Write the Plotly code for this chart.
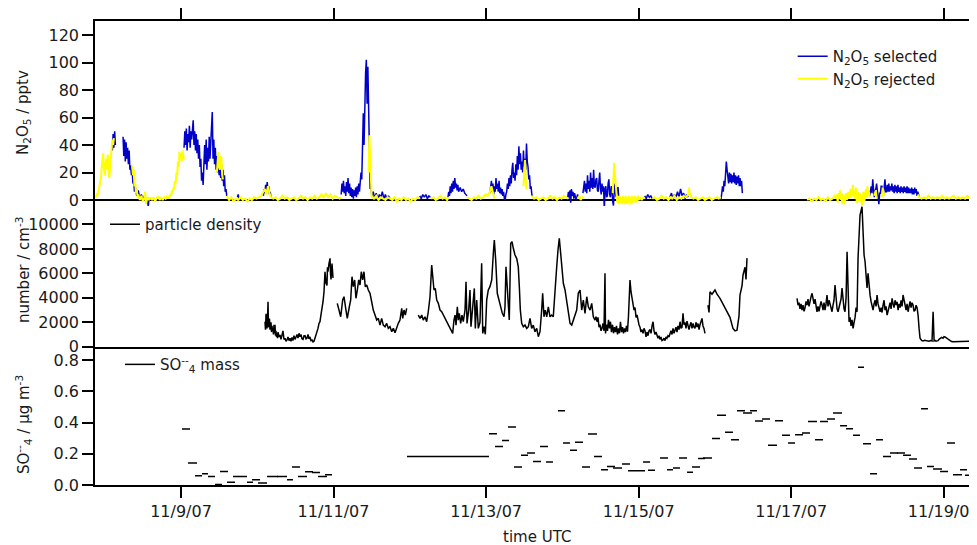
import pandas as pd
import plotly.graph_objects as go

# ---------------- data (day of November 2007, UTC) ----------------
sel_day = [
    8.10, 8.11, 8.12, 8.13, 8.14, 8.19,
    8.24, 8.25, 8.26, 8.27, 8.28, 8.29, 8.30, 8.31, 8.32, 8.33, 8.34, 8.35, 8.36, 8.37, 8.38, 8.39, 8.40,
    8.42, 8.44, 8.46, 8.48, 8.50, 8.52, 8.54, 8.56, 8.57, 8.58, 8.60, 8.80,
    9.04, 9.05, 9.06, 9.07, 9.08, 9.09, 9.10, 9.11, 9.12, 9.13, 9.14, 9.15, 9.16, 9.17, 9.18,
    9.19, 9.20, 9.21, 9.22, 9.23, 9.24, 9.25, 9.26, 9.27, 9.28, 9.29, 9.30, 9.31, 9.32, 9.33,
    9.34, 9.35, 9.36, 9.37, 9.38, 9.39, 9.40, 9.41, 9.42, 9.43, 9.44, 9.45, 9.46, 9.47, 9.48,
    9.49, 9.50, 9.51, 9.52, 9.53, 9.54, 9.55, 9.56, 9.57, 9.58, 9.59, 9.60, 9.70,
    9.74, 9.75, 9.76, 9.90,
    10.08, 10.09, 10.10, 10.11, 10.12, 10.13, 10.14, 10.15, 10.16, 10.17, 10.18, 10.50,
    11.10, 11.11, 11.12, 11.13, 11.14, 11.15, 11.16, 11.17, 11.18, 11.19, 11.20, 11.21, 11.22, 11.23, 11.24,
    11.25, 11.26, 11.27, 11.28, 11.29, 11.30, 11.31, 11.32, 11.33, 11.34, 11.35, 11.36, 11.37, 11.38, 11.39,
    11.40, 11.41, 11.42, 11.43, 11.44, 11.45, 11.46, 11.47, 11.48, 11.49, 11.50,
    11.52, 11.54, 11.56, 11.58, 11.60, 11.62, 11.64, 11.66, 11.68, 11.70, 11.72, 11.74, 11.90,
    12.13, 12.15, 12.17, 12.19, 12.21, 12.23, 12.25, 12.27, 12.40,
    12.50, 12.51, 12.52, 12.53, 12.54, 12.55, 12.56, 12.57, 12.58, 12.59, 12.60, 12.61, 12.62, 12.63, 12.64,
    12.66, 12.68, 12.70, 12.72, 12.74, 12.75, 12.90,
    13.05, 13.06, 13.07, 13.08, 13.09, 13.10, 13.11, 13.12, 13.13, 13.14, 13.15, 13.16, 13.17, 13.18, 13.19,
    13.20, 13.21, 13.22, 13.23, 13.24, 13.25, 13.26, 13.27, 13.28, 13.29, 13.30, 13.31, 13.32, 13.33, 13.34,
    13.35, 13.36, 13.37, 13.38, 13.39, 13.40, 13.41, 13.42, 13.43, 13.44, 13.45, 13.46, 13.47, 13.48, 13.49,
    13.50, 13.51, 13.52, 13.53, 13.54, 13.55, 13.56, 13.57, 13.58, 13.59, 13.60, 13.61, 13.80,
    14.07, 14.08, 14.09, 14.10, 14.11, 14.12, 14.13, 14.14, 14.15, 14.16, 14.18, 14.20, 14.21, 14.24,
    14.27, 14.28, 14.29, 14.30, 14.31, 14.32, 14.33, 14.34, 14.35, 14.36, 14.37, 14.38, 14.39, 14.40, 14.41,
    14.42, 14.43, 14.44, 14.45, 14.46, 14.47, 14.48, 14.49, 14.50, 14.51, 14.52, 14.53, 14.54, 14.55, 14.56,
    14.57, 14.58, 14.59, 14.60, 14.61, 14.62, 14.63, 14.64, 14.65, 14.66, 14.67, 14.68, 14.69, 14.70, 14.71,
    14.72, 14.73, 14.74, 14.75, 14.90,
    15.08, 15.10, 15.12, 15.14, 15.16, 15.18, 15.30,
    15.41, 15.43, 15.45, 15.47, 15.49, 15.51, 15.53, 15.55, 15.57, 15.59, 15.61, 15.63, 15.65, 15.90,
    16.08, 16.09, 16.10, 16.11, 16.12, 16.13, 16.14, 16.15, 16.16, 16.17, 16.18, 16.19, 16.20, 16.21, 16.22,
    16.23, 16.24, 16.25, 16.26, 16.27, 16.28, 16.29, 16.30, 16.31, 16.32, 16.33, 16.34, 16.35, 16.36, 17.50,
    18.03, 18.04, 18.05, 18.06, 18.07, 18.08, 18.09, 18.10, 18.11, 18.12, 18.13, 18.14, 18.15, 18.16, 18.17,
    18.18, 18.19, 18.20, 18.21, 18.22, 18.23, 18.24, 18.25, 18.26, 18.27, 18.28, 18.29, 18.30, 18.31, 18.32,
    18.33, 18.34, 18.35, 18.36, 18.37, 18.38, 18.39, 18.40, 18.41, 18.42, 18.43, 18.44, 18.45, 18.46, 18.47,
    18.48, 18.49, 18.50, 18.51, 18.52, 18.53, 18.54, 18.55, 18.56, 18.57, 18.58, 18.59, 18.60, 18.61, 18.62,
    18.63, 18.64, 18.65, 18.66, 18.67, 18.68, 18.69,
]
sel_val = [
    36, 48, 38, 50, 40, None,
    46, 32, 44, 28, 42, 30, 38, 26, 36, 22, 25, 18, 22, 12, 15, 6, 10,
    3, 7, 1, 4, 0, 3, -1, 2, -5, 1, 0, None,
    38, 50, 40, 52, 36, 48, 42, 54, 38, 50, 44, 56, 58, 40, 50,
    36, 48, 34, 44, 30, 40, 24, 30, 14, 20, 11, 28, 40, 26, 44,
    22, 38, 28, 46, 30, 42, 50, 64, 30, 44, 26, 38, 22, 32, 20,
    30, 18, 28, 16, 26, 14, 22, 10, 18, 6, 8, 3, None,
    2, 4, 1, None,
    3, 8, 5, 11, 6, 13, 7, 10, 4, 6, 2, None,
    4, 12, 6, 14, 5, 10, 3, 13, 6, 16, 5, 12, 3, 9, 2,
    8, 1, 7, 3, 9, 2, 10, 4, 12, 6, 16, 20, 15, 38, 63,
    40, 75, 92, 102, 70, 97, 55, 20, 8, 12, 3,
    6, 1, 5, 0, 4, 2, 6, 1, 4, 0, 3, 1, None,
    3, 1, 4, 2, 4, 1, 3, 2, None,
    2, 6, 3, 10, 5, 12, 6, 14, 8, 16, 9, 12, 7, 11, 6,
    9, 6, 8, 5, 4, 3, None,
    5, 10, 14, 6, 12, 4, 10, 6, 16, 8, 12, 6, 14, 5, 9,
    4, 8, 3, 6, 1, 0, 4, 6, 12, 8, 16, 10, 18, 12, 22,
    27, 16, 20, 14, 26, 18, 32, 22, 39, 26, 34, 22, 28, 20, 36,
    24, 30, 22, 41, 28, 24, 15, 18, 8, 10, 4, 3, None,
    2, 6, 1, 7, -2, 8, 3, 6, 1, 5, 0, 4, 2, None,
    5, 10, 14, 6, 12, 5, 18, 8, 14, 6, 20, 9, 16, 8, 22,
    10, 9, 15, 16, 7, 6, 14, 20, 8, 4, 12, 6, 10, -7, 8,
    10, 2, 3, 12, 15, 4, 2, 10, 8, -1, -4, 6, 12, 3, 2,
    9, 9, 1, 0, None,
    3, 1, 4, 2, 3, 1, None,
    2, 5, 1, 4, 2, 6, 2, 8, 3, 5, 1, 4, 2, None,
    0, 4, 10, 6, 14, 10, 18, 28, 22, 14, 12, 20, 13, 19, 12,
    18, 13, 20, 12, 18, 11, 17, 12, 18, 10, 16, 10, 14, 5, None,
    3, 8, 10, 5, 15, 8, 2, 7, 8, 12, 4, 2, -3, 5, 5,
    10, 10, 4, 4, 12, 15, 6, 6, 11, 6, 12, 6, 10, 7, 12,
    6, 10, 5, 11, 6, 10, 5, 11, 6, 9, 5, 10, 6, 9, 5,
    10, 6, 9, 5, 10, 5, 9, 5, 8, 5, 9, 4, 8, 4, 9,
    5, 8, 3, 6, 3, 2, 2,
]

rej_day = [
    7.87, 7.88, 7.89, 7.90, 7.91, 7.92, 7.93, 7.94, 7.95, 7.96, 7.97, 7.98, 7.99,
    8.00, 8.01, 8.02, 8.03, 8.04, 8.05, 8.06, 8.07, 8.08, 8.09, 8.10, 8.11, 8.12, 8.20,
    8.36, 8.37, 8.38, 8.39, 8.40, 8.41, 8.42, 8.43, 8.44,
    8.46, 8.48, 8.50, 8.52, 8.53, 8.54, 8.56, 8.58, 8.60, 8.62, 8.64, 8.66, 8.68, 8.70, 8.72,
    8.74, 8.76, 8.78, 8.80, 8.82, 8.84, 8.86,
    8.87, 8.88, 8.89, 8.90, 8.91, 8.92, 8.93, 8.94, 8.95, 8.96, 8.97, 8.98, 8.99, 9.00, 9.01, 9.02, 9.03, 9.04, 9.20,
    9.47, 9.48, 9.49, 9.50, 9.51, 9.52, 9.53, 9.54, 9.55, 9.58,
    9.60, 9.63, 9.66, 9.69, 9.72, 9.75, 9.78, 9.81, 9.84, 9.87, 9.90, 9.93, 9.96, 9.99, 10.02, 10.05,
    10.08, 10.10, 10.12, 10.14, 10.16, 10.18,
    10.21, 10.24, 10.27, 10.30, 10.33, 10.36, 10.39, 10.42, 10.45, 10.48, 10.51, 10.54, 10.57, 10.60, 10.63,
    10.66, 10.69, 10.72, 10.75, 10.78, 10.81, 10.84, 10.87, 10.90, 10.93, 10.96, 10.99, 11.02, 11.05, 11.08,
    11.10, 11.30,
    11.46, 11.47, 11.48, 11.49, 11.50,
    11.53, 11.56, 11.59, 11.62, 11.65, 11.68, 11.71, 11.74, 11.77, 11.80, 11.83, 11.86, 11.89, 11.92, 11.95,
    11.98, 12.01, 12.04, 12.07, 12.10, 12.13, 12.20,
    12.28, 12.31, 12.34, 12.37, 12.40, 12.43, 12.46, 12.49, 12.51, 12.60,
    12.75, 12.78, 12.81, 12.84, 12.87, 12.90, 12.93, 12.96, 12.99, 13.02, 13.05, 13.07, 13.09, 13.11, 13.30,
    13.49, 13.50, 13.51, 13.52, 13.53, 13.56,
    13.60, 13.63, 13.66, 13.69, 13.72, 13.75, 13.78, 13.81, 13.84, 13.87, 13.90, 13.93, 13.96, 13.99, 14.02,
    14.05, 14.08, 14.14,
    14.20, 14.22, 14.24, 14.26, 14.28, 14.50,
    14.66, 14.67, 14.68, 14.69, 14.70, 14.71, 14.72, 14.73, 14.74, 14.75, 14.76, 14.77, 14.78, 14.79, 14.80,
    14.81, 14.82, 14.83, 14.84, 14.85, 14.86, 14.87, 14.88, 14.89, 14.90, 14.91, 14.92, 14.93, 14.94, 14.95,
    14.96, 14.97, 14.98, 14.99,
    15.00, 15.02, 15.04, 15.06, 15.08, 15.13,
    15.18, 15.21, 15.24, 15.27, 15.30, 15.33, 15.36, 15.39, 15.42,
    15.44, 15.47, 15.50, 15.53, 15.56, 15.59, 15.62, 15.65, 15.66, 15.67, 15.69,
    15.72, 15.75, 15.78, 15.81, 15.84, 15.87, 15.90, 15.93, 15.96, 15.99, 16.02, 16.05, 16.08, 16.50,
    17.21, 17.24, 17.27, 17.30, 17.33, 17.36, 17.39, 17.42, 17.45, 17.48, 17.51, 17.54, 17.57, 17.59,
    17.60, 17.61, 17.62, 17.63, 17.64, 17.65, 17.66, 17.67, 17.68, 17.69, 17.70, 17.71, 17.72, 17.73, 17.74,
    17.75, 17.76, 17.77, 17.78, 17.79, 17.80, 17.81, 17.82, 17.83, 17.84, 17.85, 17.86, 17.87, 17.88, 17.89,
    17.90, 17.91, 17.92, 17.93, 17.94, 17.95, 17.96, 17.97, 17.98, 17.99, 18.00, 18.01, 18.02, 18.03, 18.08,
    18.09, 18.10, 18.11, 18.12, 18.15,
    18.19, 18.20, 18.21, 18.22, 18.40,
    18.66, 18.68, 18.71, 18.74, 18.77, 18.80, 18.83, 18.86, 18.89, 18.92, 18.95, 18.98, 19.01, 19.04,
    19.07, 19.10, 19.13, 19.16, 19.19, 19.22, 19.25, 19.28, 19.31, 19.34, 19.37, 19.40, 19.44,
]
rej_val = [
    2, 3, 2, 5, 4, 7, 9, 12, 16, 24, 30, 34, 22,
    18, 26, 30, 22, 33, 20, 16, 24, 32, 38, 44, 40, 45, None,
    25, 18, 22, 10, 12, 5, 8, 2, 4,
    0, 3, -1, 2, 6, -3, 2, 0, 2, 0, 2, -1, 1, 3, 0,
    2, 0, 2, 1, 3, 1, 4,
    3, 7, 5, 9, 8, 14, 12, 20, 18, 28, 24, 35, 30, 34, 28, 36, 32, 30, None,
    20, 30, 35, 24, 22, 32, 30, 18, 15, None,
    3, 0, 2, -1, 1, 0, 2, 0, 1, -1, 1, 0, 2, 1, 2, 3,
    6, 8, 4, 10, 5, 2,
    1, 2, 0, 1, 3, 1, 2, 0, 1, 2, 0, 1, 3, 1, 2,
    0, 2, 1, 3, 1, 2, 4, 2, 5, 2, 4, 1, 3, 2, 1,
    2, None,
    20, 47, 30, 8, 2,
    1, 3, 0, 2, 1, 0, 2, 1, 0, 2, -1, 1, 0, 2, 0,
    1, -1, 1, 0, 2, 1, None,
    1, 2, 0, 1, 3, 1, 2, 0, 2, None,
    2, 1, 0, 2, 1, 3, 1, 2, 4, 3, 6, 10, 5, 1, None,
    10, 20, 29, 14, 8, None,
    3, 1, 2, 0, 1, 2, 0, 1, 3, 1, 2, 0, 2, 1, 3,
    2, 1, None,
    1, 3, 0, 2, 1, None,
    5, 16, 27, 18, 12, 4, -2, 3, -3, 3, -2, 2, -3, 3, -2,
    2, -3, 3, -2, 2, -3, 3, -1, 2, -3, 3, -2, 2, -1, 3,
    -2, 2, -1, 3,
    0, 2, 0, 2, 1, None,
    1, 2, 0, 1, 3, 1, 2, 0, 2,
    1, 3, 0, 2, 1, 3, 2, 4, 9, 5, 2,
    1, 2, 0, 1, 2, 0, 1, 2, 0, 1, 2, 1, 2, None,
    0, 1, -1, 1, 0, 2, 0, 1, -1, 2, 0, 1, 3, 1,
    4, -2, 5, 1, 7, 0, 5, -3, 4, 0, -3, 3, 5, 0, 2,
    6, 1, 4, 8, 2, 9, 11, 3, 7, 1, 9, -2, 4, 6, -1,
    5, 2, -3, -4, 4, 6, -1, 3, 8, 2, 10, 4, 6, 2, None,
    3, 6, 7, 1, None,
    2, 9, 5, 3, None,
    4, 2, 1, 2, 1, 3, 1, 2, 1, 2, 1, 3, 1, 2,
    1, 2, 3, 1, 2, 1, 2, 1, 3, 1, 2, 1, 2,
]

part_day = [
    10.101, 10.108, 10.115, 10.121, 10.128, 10.134, 10.141, 10.147, 10.154, 10.160, 10.167, 10.173, 10.180, 10.186, 10.193,
    10.199, 10.206, 10.212, 10.219, 10.225, 10.232, 10.239, 10.245, 10.252, 10.259, 10.265, 10.272, 10.285, 10.298, 10.311,
    10.324, 10.337, 10.350, 10.364, 10.377, 10.390, 10.403, 10.416, 10.429, 10.442, 10.455, 10.468, 10.481, 10.495, 10.508,
    10.521, 10.534, 10.547, 10.560, 10.573, 10.586, 10.600, 10.613, 10.626, 10.639, 10.652, 10.665, 10.678, 10.691, 10.704,
    10.718, 10.731, 10.744, 10.757, 10.770, 10.783, 10.796, 10.809, 10.822, 10.835, 10.848, 10.862, 10.875, 10.888, 10.901,
    10.914, 10.920, 10.927, 10.940, 10.954, 10.960, 10.967, 10.980, 10.993, 11.020,
    11.049, 11.076, 11.094, 11.120, 11.137, 11.163, 11.180, 11.207, 11.225, 11.242,
    11.259, 11.277, 11.294, 11.312, 11.330, 11.347, 11.364, 11.382, 11.399, 11.416,
    11.435, 11.456, 11.478, 11.500, 11.521, 11.544, 11.566, 11.587, 11.609, 11.631,
    11.652, 11.675, 11.697, 11.718, 11.740, 11.763, 11.784, 11.806, 11.828, 11.849,
    11.871, 11.894, 11.907, 11.924, 11.941, 11.959, 12.030,
    12.111, 12.134, 12.156, 12.177, 12.199, 12.221, 12.242, 12.265, 12.287, 12.300,
    12.317, 12.334, 12.353, 12.374, 12.396, 12.418, 12.439, 12.461, 12.484, 12.505,
    12.527, 12.549, 12.562, 12.579, 12.593, 12.606, 12.623, 12.636, 12.649, 12.667,
    12.684, 12.701, 12.724, 12.737, 12.750, 12.772, 12.789, 12.802, 12.825, 12.846,
    12.859, 12.877, 12.898, 12.920, 12.942, 12.956, 12.973, 12.990, 13.008, 13.029,
    13.051, 13.074, 13.095, 13.108, 13.126, 13.147, 13.169, 13.192, 13.213, 13.235,
    13.248, 13.261, 13.278, 13.291, 13.304, 13.323, 13.340, 13.357, 13.379, 13.401,
    13.422, 13.436, 13.449, 13.467, 13.488, 13.510, 13.533, 13.554, 13.576, 13.598,
    13.619, 13.641, 13.664, 13.685, 13.707, 13.729, 13.742, 13.759, 13.776, 13.795,
    13.816, 13.838, 13.860, 13.881, 13.904, 13.926, 13.943, 13.960, 13.978, 13.995,
    14.013, 14.035, 14.057, 14.078, 14.101, 14.123, 14.144, 14.166, 14.188, 14.209,
    14.232, 14.254, 14.275, 14.297, 14.320, 14.341, 14.363, 14.385, 14.406, 14.428, 14.441,
    14.454, 14.467, 14.481, 14.494, 14.507, 14.520, 14.533, 14.546, 14.559, 14.566,
    14.579, 14.592, 14.605, 14.618, 14.631, 14.644, 14.658, 14.671, 14.684, 14.697,
    14.710, 14.723, 14.736, 14.749, 14.762, 14.776, 14.789, 14.802, 14.815, 14.828,
    14.841, 14.854, 14.867, 14.880, 14.887, 14.900, 14.913, 14.927, 14.940, 14.953,
    14.966, 14.979, 14.992, 15.005, 15.018, 15.031, 15.044, 15.058, 15.071, 15.084,
    15.097, 15.110, 15.123, 15.136, 15.150, 15.163, 15.176, 15.189, 15.202, 15.215,
    15.228, 15.241, 15.254, 15.267, 15.280, 15.293, 15.306, 15.320, 15.333, 15.346,
    15.359, 15.372, 15.385, 15.398, 15.411, 15.424, 15.438, 15.451, 15.464, 15.477,
    15.490, 15.503, 15.516, 15.530, 15.543, 15.556, 15.569, 15.582, 15.595, 15.608,
    15.621, 15.634, 15.648, 15.661, 15.674, 15.687, 15.700, 15.713, 15.726, 15.739,
    15.752, 15.766, 15.779, 15.792, 15.805, 15.818, 15.831, 15.844, 15.857, 15.870, 15.890,
    15.909, 15.923, 15.936, 15.962, 16.001, 16.028, 16.067, 16.106, 16.159, 16.198, 16.237, 16.264, 16.290, 16.316, 16.329,
    16.356, 16.369, 16.395, 16.408, 16.421, 16.700,
    17.077, 17.090, 17.103, 17.116, 17.129, 17.142, 17.155, 17.169, 17.182, 17.195,
    17.208, 17.221, 17.234, 17.247, 17.261, 17.274, 17.287, 17.300, 17.313, 17.326,
    17.339, 17.352, 17.365, 17.378, 17.392, 17.405, 17.418, 17.431, 17.444, 17.457,
    17.470, 17.483, 17.497, 17.510, 17.523, 17.536, 17.549, 17.562, 17.575, 17.589,
    17.602, 17.615, 17.628, 17.641, 17.654, 17.667, 17.680, 17.693, 17.706, 17.720,
    17.733, 17.746, 17.759, 17.772, 17.785, 17.798, 17.812, 17.825, 17.838, 17.851,
    17.864, 17.877, 17.890, 17.903, 17.929, 17.943, 17.956, 17.969, 17.982, 17.995,
    18.008, 18.021, 18.035, 18.048, 18.061, 18.074, 18.087, 18.100, 18.113, 18.126,
    18.139, 18.153, 18.166, 18.179, 18.192, 18.205, 18.218, 18.231, 18.244, 18.258,
    18.271, 18.284, 18.297, 18.310, 18.323, 18.336, 18.349, 18.362, 18.376, 18.389,
    18.402, 18.415, 18.428, 18.441, 18.454, 18.467, 18.480, 18.494, 18.507, 18.520,
    18.533, 18.546, 18.559, 18.572, 18.585, 18.598, 18.611, 18.625, 18.638, 18.651,
    18.664, 18.677, 18.690, 18.710, 18.729, 18.749, 18.769, 18.788, 18.808, 18.828,
    18.847, 18.861, 18.874, 18.887, 18.900, 18.913, 18.926, 18.939, 18.952, 18.972,
    18.991, 19.004, 19.017, 19.037, 19.057, 19.070, 19.083, 19.103, 19.122, 19.155,
    19.187, 19.220, 19.253, 19.285, 19.318, 19.351, 19.384, 19.410, 19.437,
]
part_val = [
    2045, 1400, 2700, 1600, 1500, 2200, 3680, 1700, 1600, 2300, 1400, 1900, 2000, 1200, 1700,
    1300, 1530, 1000, 1800, 1100, 1800, 900, 1300, 800, 1100, 700, 1200, 800, 960, 600,
    900, 1300, 600, 700, 450, 550, 800, 500, 700, 450, 750, 500, 900, 600, 800,
    1000, 700, 1100, 820, 1000, 650, 600, 900, 900, 650, 700, 1000, 650, 800, 500,
    550, 400, 450, 700, 900, 1230, 1500, 1900, 2045, 2600, 3000, 3680, 4500, 6135, 5200,
    5000, 6500, 6135, 6800, 7230, 6000, 5500, 6800, 5620, None,
    3550, 3000, 2450, 3820, 4090, 3000, 2320, 3270, 3820, 5730,
    4910, 5460, 3960, 4640, 5460, 5050, 6135, 5460, 6135, 4910,
    5050, 4640, 4370, 3680, 3000, 2590, 2180, 2320, 1770, 2320,
    1770, 1640, 1910, 1500, 1640, 1230, 1500, 1150, 1640, 1910,
    2180, 3140, 2320, 3000, 2590, 3140, None,
    2590, 2320, 2590, 2180, 2450, 2050, 2860, 4090, 6680, 5460,
    4640, 4770, 3820, 3550, 3000, 2860, 2590, 2320, 2050, 1770,
    1500, 1230, 1090, 2180, 2590, 1770, 3270, 2180, 2730, 1910,
    2590, 2050, 3000, 5320, 1910, 3000, 4640, 1640, 3000, 4770,
    1500, 3820, 1500, 2000, 6820, 1090, 1640, 1020, 3820, 4640,
    4910, 5460, 7640, 8730, 7090, 4370, 3820, 3270, 2730, 2450,
    3270, 6545, 4910, 3820, 2180, 8460, 8600, 8050, 7500, 7230,
    6545, 4910, 3000, 1910, 1640, 1770, 1500, 1640, 2320, 1500,
    1770, 1230, 1500, 820, 1230, 3000, 4370, 2450, 3000, 2450,
    3270, 2450, 2590, 2450, 4910, 6545, 7910, 8870, 7640, 6545,
    5190, 4640, 3820, 2730, 1910, 1770, 2180, 2730, 3000, 4370,
    4640, 3000, 3820, 2730, 4090, 3270, 3000, 3550, 2450, 2180, 2450,
    2045, 2400, 1600, 1800, 1300, 1500, 1900, 1300, 6000, 1090,
    1800, 1300, 2200, 1500, 2045, 1200, 1800, 1100, 1600, 1200,
    1700, 1000, 1500, 1100, 2045, 1200, 1600, 1100, 1500, 1200,
    1700, 1230, 2500, 4200, 5460, 4500, 4000, 3680, 3000, 3200,
    2400, 2600, 2045, 1800, 1600, 1200, 1400, 1090, 1500, 1300,
    800, 1200, 900, 1300, 1400, 1100, 1700, 2045, 1300, 1000,
    1200, 800, 690, 900, 600, 800, 500, 550, 700, 500,
    800, 700, 900, 800, 1090, 1300, 1000, 1500, 1100, 1300,
    1600, 1200, 1700, 1400, 2045, 1500, 1600, 2730, 1800, 2000,
    1500, 2100, 1800, 1400, 1770, 2000, 1500, 1900, 1600, 1500,
    2000, 1600, 1900, 1400, 1800, 2000, 2320, 1700, 1500, 1090, None,
    3410, 2800, 4500, 4300, 4640, 4300, 3950, 3500, 2860, 2400, 1500, 1300, 1360, 2500, 4230,
    5000, 5870, 6500, 5500, 7250, None,
    3960, 3400, 3600, 3100, 3500, 3000, 3400, 2900, 3200, 3700,
    3410, 3900, 3300, 3800, 4100, 4370, 3700, 3500, 3900, 3200,
    2860, 3300, 2900, 3300, 3700, 3410, 3000, 3600, 3000, 3500,
    4230, 3300, 3800, 3500, 3000, 2860, 3400, 3800, 5050, 3500,
    3100, 2860, 3300, 3500, 3900, 4800, 3500, 3100, 2860, 4000,
    7770, 3500, 2045, 2400, 1700, 2200, 1500, 2000, 2400, 3200,
    2860, 7250, 9000, 10770, 11450, 8590, 7500, 6950, 5500, 4800,
    6000, 4800, 4200, 3700, 3410, 3000, 3500, 3800, 3300, 4230,
    3500, 3100, 2860, 3200, 2800, 3400, 3800, 3000, 3300, 2590,
    2900, 3200, 3600, 3100, 3950, 3500, 3200, 3800, 3400, 3680,
    3000, 3500, 3200, 3800, 3300, 4230, 3700, 3400, 3000, 3500,
    2860, 3300, 3700, 3200, 3600, 3410, 2900, 3000, 3400, 3200,
    2590, 1500, 690, 520, 470, 520, 480, 430, 450, 500,
    470, 2860, 470, 520, 450, 480, 500, 600, 690, 760,
    700, 820, 800, 700, 600, 520, 450, 420, 400, 410,
    380, 400, 400, 430, 420, 460, 550, 520, 520,
]

so4_start = [9.013, 9.092, 9.184, 9.275, 9.354, 9.446, 9.511, 9.603, 9.682, 9.865, 9.931, 10.010, 10.128,
             10.259, 10.390, 10.455, 10.534, 10.626, 10.718, 10.796, 10.888, 11.963, 13.038, 13.117, 13.209,
             13.287, 13.366, 13.458, 13.537, 13.615, 13.707, 13.786, 13.943, 14.009, 14.100, 14.166, 14.258,
             14.336, 14.415, 14.507, 14.585, 14.664, 14.782, 14.861, 14.992, 15.058, 15.123, 15.280, 15.372,
             15.451, 15.530, 15.635, 15.700, 15.779, 15.844, 15.962, 16.028, 16.133, 16.211, 16.290, 16.369,
             16.460, 16.526, 16.618, 16.696, 16.788, 16.880, 16.959, 17.051, 17.142, 17.221, 17.313, 17.378,
             17.470, 17.549, 17.641, 17.720, 17.811, 17.877, 17.942, 18.034, 18.113, 18.204, 18.296, 18.388,
             18.467, 18.545, 18.611, 18.703, 18.781, 18.860, 18.952, 19.043, 19.122, 19.214, 19.279, 19.371]
so4_end = [9.118, 9.210, 9.275, 9.354, 9.446, 9.538, 9.616, 9.708, 9.865, 9.944, 10.036, 10.128, 10.272,
           10.390, 10.468, 10.560, 10.652, 10.731, 10.822, 10.914, 10.980, 13.038, 13.143, 13.222, 13.301,
           13.392, 13.471, 13.550, 13.641, 13.720, 13.812, 13.877, 14.035, 14.101, 14.192, 14.271, 14.363,
           14.454, 14.520, 14.599, 14.690, 14.782, 14.887, 14.992, 15.084, 15.150, 15.215, 15.385, 15.451,
           15.543, 15.635, 15.713, 15.805, 15.870, 15.962, 16.067, 16.146, 16.237, 16.316, 16.395, 16.487,
           16.552, 16.631, 16.723, 16.814, 16.893, 16.985, 17.051, 17.156, 17.247, 17.339, 17.418, 17.483,
           17.575, 17.667, 17.733, 17.811, 17.903, 17.955, 18.047, 18.126, 18.204, 18.309, 18.401, 18.493,
           18.571, 18.650, 18.716, 18.794, 18.873, 18.978, 19.057, 19.148, 19.240, 19.306, 19.384, 19.476]
so4_val = [0.358, 0.141, 0.060, 0.072, 0.055, 0.003, 0.087, 0.017, 0.055, 0.017, 0.034, 0.013, 0.055,
           0.055, 0.034, 0.115, 0.055, 0.085, 0.080, 0.055, 0.066, 0.183, 0.328, 0.247, 0.285,
           0.371, 0.115, 0.190, 0.205, 0.151, 0.247, 0.147, 0.475, 0.269, 0.222, 0.273, 0.115,
           0.326, 0.183, 0.098, 0.119, 0.109, 0.134, 0.092, 0.092, 0.147, 0.094, 0.173, 0.098,
           0.109, 0.173, 0.081, 0.115, 0.169, 0.173, 0.298, 0.446, 0.337, 0.290, 0.476, 0.461,
           0.476, 0.410, 0.422, 0.254, 0.411, 0.318, 0.269, 0.322, 0.333, 0.407, 0.290, 0.407,
           0.422, 0.461, 0.380, 0.360, 0.318, 0.753, 0.264, 0.072, 0.290, 0.183, 0.205, 0.205,
           0.190, 0.166, 0.109, 0.488, 0.119, 0.102, 0.087, 0.269, 0.066, 0.098, 0.062, 0.104]

tick_days = [9, 11, 13, 15, 17, 19]
tick_labels = ["11/9/07", "11/11/07", "11/13/07", "11/15/07", "11/17/07", "11/19/07"]
n2o5_ticks = [0, 20, 40, 60, 80, 100, 120]
part_ticks = [0, 2000, 4000, 6000, 8000, 10000]
part_ticklabels = ["0", "2000", "4000", "6000", "8000", "10000"]
so4_ticks = [0.0, 0.2, 0.4, 0.6, 0.8]
so4_ticklabels = ["0.0", "0.2", "0.4", "0.6", "0.8"]

assert len(sel_day) == len(sel_val), (len(sel_day), len(sel_val))
assert len(rej_day) == len(rej_val), (len(rej_day), len(rej_val))
assert len(part_day) == len(part_val), (len(part_day), len(part_val))
assert len(so4_start) == len(so4_end) == len(so4_val)

# ---------------- helpers ----------------
BASE = pd.Timestamp("2007-11-01")


def to_time(days):
    return [None if d is None else BASE + pd.Timedelta(days=d - 1) for d in days]


so4_x, so4_y = [], []
for s, e, v in zip(so4_start, so4_end, so4_val):
    so4_x += [s, e, None]
    so4_y += [v, v, None]

FONT = "DejaVu Sans"
TXT = "#1a1a1a"
x_range = to_time([7.8724, 19.4366])
tick_times = to_time(tick_days)

fig = go.Figure()
fig.add_trace(go.Scatter(x=to_time(sel_day), y=sel_val, mode="lines", xaxis="x", yaxis="y",
                         line=dict(color="#0000C8", width=1.5),
                         name="N<sub>2</sub>O<sub>5</sub> selected", legend="legend"))
fig.add_trace(go.Scatter(x=to_time(rej_day), y=rej_val, mode="lines", xaxis="x", yaxis="y",
                         line=dict(color="#FFFF00", width=2),
                         name="N<sub>2</sub>O<sub>5</sub> rejected", legend="legend"))
fig.add_trace(go.Scatter(x=to_time(part_day), y=part_val, mode="lines", xaxis="x2", yaxis="y2",
                         line=dict(color="black", width=1.5),
                         name="particle density", legend="legend2"))
fig.add_trace(go.Scatter(x=to_time(so4_x), y=so4_y, mode="lines", xaxis="x3", yaxis="y3",
                         line=dict(color="black", width=1.5),
                         name="SO<sup>--</sup><sub>4</sub> mass", legend="legend3"))

axis_common = dict(showline=True, linecolor="black", linewidth=1.5, showgrid=False,
                   tickcolor="black", tickwidth=1.5, ticklen=11,
                   tickfont=dict(family=FONT, size=16, color=TXT))

# the page body adds an 8 px offset, so margins are shifted to keep the plot where it belongs
fig.update_layout(
    width=977, height=545,
    margin=dict(l=87, r=8, t=13, b=68, autoexpand=False),
    paper_bgcolor="white", plot_bgcolor="rgba(0,0,0,0)",
    font=dict(family=FONT, size=15, color=TXT),
    showlegend=True, hovermode=False,
    xaxis=dict(axis_common, domain=[0, 1], anchor="y", side="top", matches="x3", range=x_range,
               ticks="outside", tickvals=tick_times, showticklabels=False, zeroline=False),
    xaxis2=dict(axis_common, domain=[0, 1], anchor="y2", matches="x3", range=x_range,
                ticks="", showticklabels=False, zeroline=False),
    xaxis3=dict(axis_common, domain=[0, 1], anchor="y3", range=x_range, ticks="outside",
                tickvals=tick_times, ticktext=tick_labels, zeroline=False),
    yaxis=dict(axis_common, domain=[0.6013, 1], anchor="x", range=[-4.36, 130.2], ticks="outside",
               tickvals=n2o5_ticks, zeroline=True, zerolinecolor="black", zerolinewidth=1.5),
    yaxis2=dict(axis_common, domain=[0.298, 0.6142], anchor="x2", range=[0, 12000], ticks="outside",
                tickvals=part_ticks, ticktext=part_ticklabels, zeroline=False),
    yaxis3=dict(axis_common, domain=[0, 0.298], anchor="x3", range=[0, 0.885], ticks="outside",
                tickvals=so4_ticks, ticktext=so4_ticklabels, zeroline=False),
    legend=dict(x=0.791, y=0.959, xanchor="left", yanchor="top", bgcolor="rgba(0,0,0,0)",
                font=dict(family=FONT, size=15, color=TXT), tracegroupgap=0),
    legend2=dict(x=0.0113, y=0.597, xanchor="left", yanchor="top", bgcolor="rgba(0,0,0,0)",
                 font=dict(family=FONT, size=15, color=TXT)),
    legend3=dict(x=0.0283, y=0.295, xanchor="left", yanchor="top", bgcolor="rgba(0,0,0,0)",
                 font=dict(family=FONT, size=15, color=TXT)),
    annotations=[
        dict(text="N<sub>2</sub>O<sub>5</sub> / pptv", xref="paper", yref="paper", x=-0.0816, y=0.8017,
             textangle=-90, showarrow=False, xanchor="center", yanchor="middle",
             font=dict(family=FONT, size=15, color=TXT)),
        dict(text="number / cm<sup>-3</sup>", xref="paper", yref="paper", x=-0.0816, y=0.4634,
             textangle=-90, showarrow=False, xanchor="center", yanchor="middle",
             font=dict(family=FONT, size=15, color=TXT)),
        dict(text="SO<sup>--</sup><sub>4</sub> / µg m<sup>-3</sup>", xref="paper", yref="paper",
             x=-0.0816, y=0.1293, textangle=-90, showarrow=False, xanchor="center", yanchor="middle",
             font=dict(family=FONT, size=15, color=TXT)),
        dict(text="time UTC", xref="paper", yref="paper", x=0.501, y=-0.112, showarrow=False,
             xanchor="center", yanchor="middle", font=dict(family=FONT, size=15, color=TXT)),
    ],
)

fig.write_html("out.html")
